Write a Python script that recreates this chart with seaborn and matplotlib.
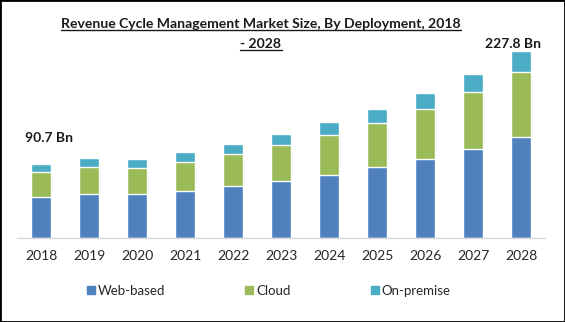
import matplotlib
matplotlib.use("Agg")
import matplotlib.pyplot as plt
from matplotlib.lines import Line2D
from matplotlib.patches import Rectangle
import seaborn as sns
import pandas as pd
import numpy as np

# Market size by deployment mode (USD Bn)
years = ["2018", "2019", "2020", "2021", "2022", "2023",
         "2024", "2025", "2026", "2027", "2028"]
web_based = [50.2, 53.7, 53.7, 57.3, 63.4, 69.5, 76.8, 86.6, 96.3, 108.5, 123.0]
cloud = [30.7, 32.9, 31.7, 35.4, 39.0, 43.9, 48.4, 53.7, 61.0, 69.5, 79.2]
on_premise = [9.8, 11.0, 11.0, 12.2, 12.2, 13.4, 16.2, 17.1, 19.5, 22.0, 25.6]
series_names = ["Web-based", "Cloud", "On-premise"]
colors = ["#4F81BD", "#9BBB59", "#4BACC6"]

df = pd.DataFrame({"year": years, "Web-based": web_based,
                   "Cloud": cloud, "On-premise": on_premise})
df["cum_web"] = df["Web-based"]
df["cum_cloud"] = df["cum_web"] + df["Cloud"]
df["cum_total"] = df["cum_cloud"] + df["On-premise"]

sns.set_theme(style="white")
plt.rcParams["font.family"] = ["Lato", "DejaVu Sans"]

W, H = 565, 322
fig = plt.figure(figsize=(W / 100, H / 100), dpi=100)
ax = fig.add_axes([17 / W, (H - 238) / H, (545 - 17) / W, (238 - 45) / H])

# stacked bars drawn back to front from cumulative totals
for col, c in zip(["cum_total", "cum_cloud", "cum_web"], colors[::-1]):
    sns.barplot(data=df, x="year", y=col, color=c, width=0.42,
                saturation=1, ax=ax, order=years)

ax.set_xlim(-0.5, len(years) - 0.5)
ax.set_ylim(0, 235)
ax.set_xlabel("")
ax.set_ylabel("")
ax.set_yticks([])
for s in ["top", "right", "left"]:
    ax.spines[s].set_visible(False)
ax.spines["bottom"].set_color("#D9D9D9")
ax.spines["bottom"].set_linewidth(1.0)
ax.tick_params(axis="x", length=0, pad=9, labelsize=10, labelcolor="#262626")

# value labels for first and last year
totals = df["cum_total"].tolist()
ax.annotate(f"{totals[0]:.1f} Bn", xy=(0, totals[0]), xytext=(6, 14),
            textcoords="offset points", ha="center", va="bottom",
            fontsize=10, fontweight="bold", color="#1a1a1a")
ax.annotate(f"{totals[-1]:.1f} Bn", xy=(10, totals[-1]), xytext=(-6, 1),
            textcoords="offset points", ha="center", va="bottom",
            fontsize=10, fontweight="bold", color="#1a1a1a")

# title with underline
title_lines = ["Revenue Cycle Management Market Size, By Deployment, 2018", "- 2028"]
title_y = [1 - 24 / H, 1 - 44 / H]
tx = 261 / W
texts = []
for line, y in zip(title_lines, title_y):
    t = fig.text(tx, y, line, ha="center", va="center", fontsize=10.1,
                 fontweight="bold", color="#1a1a1a")
    texts.append(t)
fig.canvas.draw()
r = fig.canvas.get_renderer()
for t in texts:
    bb = t.get_window_extent(renderer=r).transformed(fig.transFigure.inverted())
    yline = bb.y0 + 0.5 / H
    fig.add_artist(Line2D([bb.x0, bb.x1], [yline, yline], transform=fig.transFigure,
                          color="#1a1a1a", linewidth=1.0))

# legend
handles = [Line2D([], [], marker="s", linestyle="", markersize=6,
                  markerfacecolor=c, markeredgecolor=c) for c in colors]
fig.legend(handles, series_names, loc="center", bbox_to_anchor=(268 / W, 1 - 291 / H),
           ncol=3, frameon=False, fontsize=9.5, handletextpad=0.1,
           columnspacing=6.0, handlelength=0.8, labelcolor="#262626")

# outer frame
fig.add_artist(Rectangle((0, 0), 1, 1, transform=fig.transFigure, fill=False,
                         edgecolor="black", linewidth=2.0))

fig.savefig("out.png", dpi=100)
